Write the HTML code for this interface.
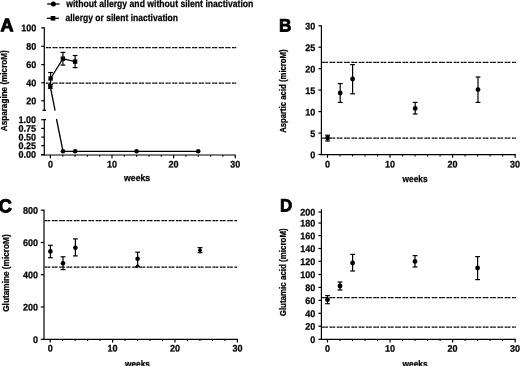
<!DOCTYPE html>
<html><head><meta charset="utf-8"><title>Figure</title>
<style>
html,body{margin:0;padding:0;background:#fff;}
body{width:520px;height:366px;overflow:hidden;}
svg{display:block;}
text{font-family:"Liberation Sans", Arial, sans-serif;font-weight:bold;fill:#000;stroke:#000;stroke-width:0.25px;}
</style></head><body>
<svg width="520" height="366" viewBox="0 0 520 366">
<rect x="0" y="0" width="520" height="366" fill="#fff"/>
<line x1="47.2" y1="4" x2="59.6" y2="4" stroke="#000" stroke-width="1.3" />
<circle cx="53.4" cy="4" r="2.5" fill="#000"/>
<text x="66.2" y="6.9" font-size="10.0" text-anchor="start" textLength="187.2" lengthAdjust="spacingAndGlyphs" transform="rotate(0.03 66.2 6.9)" >without allergy and without silent inactivation</text>
<line x1="46.8" y1="18.3" x2="58.9" y2="18.3" stroke="#000" stroke-width="1.3" />
<rect x="50.7" y="16.0" width="4.6" height="4.6" fill="#000"/>
<text x="65.5" y="21.4" font-size="9.8" text-anchor="start" textLength="112.5" lengthAdjust="spacingAndGlyphs" transform="rotate(0.03 65.5 21.4)" >allergy or silent inactivation</text>
<text x="0.4" y="31.2" font-size="18" text-anchor="start" transform="rotate(0.03 0.4 31.2)" style="stroke-width:1px">A</text>
<line x1="44.3" y1="27.299999999999997" x2="44.3" y2="110.4" stroke="#000" stroke-width="1.2" />
<line x1="41.2" y1="27.9" x2="44.3" y2="27.9" stroke="#000" stroke-width="1.2" />
<text x="36.2" y="31.3" font-size="9.6" text-anchor="end" textLength="15.05" lengthAdjust="spacingAndGlyphs" transform="rotate(0.03 36.2 31.3)" >100</text>
<line x1="41.2" y1="46.3" x2="44.3" y2="46.3" stroke="#000" stroke-width="1.2" />
<text x="36.2" y="49.7" font-size="9.6" text-anchor="end" textLength="10.04" lengthAdjust="spacingAndGlyphs" transform="rotate(0.03 36.2 49.7)" >80</text>
<line x1="41.2" y1="64.6" x2="44.3" y2="64.6" stroke="#000" stroke-width="1.2" />
<text x="36.2" y="68.0" font-size="9.6" text-anchor="end" textLength="10.04" lengthAdjust="spacingAndGlyphs" transform="rotate(0.03 36.2 68.0)" >60</text>
<line x1="41.2" y1="82.8" x2="44.3" y2="82.8" stroke="#000" stroke-width="1.2" />
<text x="36.2" y="86.2" font-size="9.6" text-anchor="end" textLength="10.04" lengthAdjust="spacingAndGlyphs" transform="rotate(0.03 36.2 86.2)" >40</text>
<line x1="41.2" y1="100.8" x2="44.3" y2="100.8" stroke="#000" stroke-width="1.2" />
<text x="36.2" y="104.2" font-size="9.6" text-anchor="end" textLength="10.04" lengthAdjust="spacingAndGlyphs" transform="rotate(0.03 36.2 104.2)" >20</text>
<line x1="42.4" y1="110.3" x2="46.0" y2="110.3" stroke="#000" stroke-width="1.2" />
<line x1="44.3" y1="119.10000000000001" x2="44.3" y2="155.4" stroke="#000" stroke-width="1.2" />
<line x1="44.3" y1="119.7" x2="46.0" y2="119.7" stroke="#000" stroke-width="1.2" />
<line x1="41.2" y1="119.7" x2="44.3" y2="119.7" stroke="#000" stroke-width="1.2" />
<text x="36.0" y="123.1" font-size="9.6" text-anchor="end" textLength="17.56" lengthAdjust="spacingAndGlyphs" transform="rotate(0.03 36.0 123.1)" >1.00</text>
<line x1="41.2" y1="128.4" x2="44.3" y2="128.4" stroke="#000" stroke-width="1.2" />
<text x="36.0" y="131.8" font-size="9.6" text-anchor="end" textLength="17.56" lengthAdjust="spacingAndGlyphs" transform="rotate(0.03 36.0 131.8)" >0.75</text>
<line x1="41.2" y1="137.1" x2="44.3" y2="137.1" stroke="#000" stroke-width="1.2" />
<text x="36.0" y="140.5" font-size="9.6" text-anchor="end" textLength="17.56" lengthAdjust="spacingAndGlyphs" transform="rotate(0.03 36.0 140.5)" >0.50</text>
<line x1="41.2" y1="145.7" x2="44.3" y2="145.7" stroke="#000" stroke-width="1.2" />
<text x="36.0" y="149.1" font-size="9.6" text-anchor="end" textLength="17.56" lengthAdjust="spacingAndGlyphs" transform="rotate(0.03 36.0 149.1)" >0.25</text>
<line x1="41.2" y1="154.6" x2="44.3" y2="154.6" stroke="#000" stroke-width="1.2" />
<text x="36.0" y="157.8" font-size="9.6" text-anchor="end" textLength="17.56" lengthAdjust="spacingAndGlyphs" transform="rotate(0.03 36.0 157.8)" >0.00</text>
<text x="6.9" y="131.2" font-size="9.4" text-anchor="start" textLength="81" lengthAdjust="spacingAndGlyphs" transform="rotate(-90 6.9 131.2)" >Asparagine (microM)</text>
<line x1="40.95" y1="155.0" x2="235.85000000000002" y2="155.0" stroke="#000" stroke-width="1.2" />
<line x1="50.4" y1="155.0" x2="50.4" y2="158.2" stroke="#000" stroke-width="1.2" />
<line x1="62.72" y1="155.0" x2="62.72" y2="156.8" stroke="#000" stroke-width="1.1" />
<line x1="75.03999999999999" y1="155.0" x2="75.03999999999999" y2="156.8" stroke="#000" stroke-width="1.1" />
<line x1="87.36" y1="155.0" x2="87.36" y2="156.8" stroke="#000" stroke-width="1.1" />
<line x1="99.68" y1="155.0" x2="99.68" y2="156.8" stroke="#000" stroke-width="1.1" />
<line x1="112.0" y1="155.0" x2="112.0" y2="158.2" stroke="#000" stroke-width="1.2" />
<line x1="124.32" y1="155.0" x2="124.32" y2="156.8" stroke="#000" stroke-width="1.1" />
<line x1="136.64000000000001" y1="155.0" x2="136.64000000000001" y2="156.8" stroke="#000" stroke-width="1.1" />
<line x1="148.96" y1="155.0" x2="148.96" y2="156.8" stroke="#000" stroke-width="1.1" />
<line x1="161.28" y1="155.0" x2="161.28" y2="156.8" stroke="#000" stroke-width="1.1" />
<line x1="173.6" y1="155.0" x2="173.6" y2="158.2" stroke="#000" stroke-width="1.2" />
<line x1="185.92000000000002" y1="155.0" x2="185.92000000000002" y2="156.8" stroke="#000" stroke-width="1.1" />
<line x1="198.24" y1="155.0" x2="198.24" y2="156.8" stroke="#000" stroke-width="1.1" />
<line x1="210.56" y1="155.0" x2="210.56" y2="156.8" stroke="#000" stroke-width="1.1" />
<line x1="222.88000000000002" y1="155.0" x2="222.88000000000002" y2="156.8" stroke="#000" stroke-width="1.1" />
<line x1="235.20000000000002" y1="155.0" x2="235.20000000000002" y2="158.2" stroke="#000" stroke-width="1.2" />
<text x="50.4" y="167.5" font-size="9.6" text-anchor="middle" textLength="5.02" lengthAdjust="spacingAndGlyphs" transform="rotate(0.03 50.4 167.5)" >0</text>
<text x="112.0" y="167.5" font-size="9.6" text-anchor="middle" textLength="10.04" lengthAdjust="spacingAndGlyphs" transform="rotate(0.03 112.0 167.5)" >10</text>
<text x="173.6" y="167.5" font-size="9.6" text-anchor="middle" textLength="10.04" lengthAdjust="spacingAndGlyphs" transform="rotate(0.03 173.6 167.5)" >20</text>
<text x="235.2" y="167.5" font-size="9.6" text-anchor="middle" textLength="10.04" lengthAdjust="spacingAndGlyphs" transform="rotate(0.03 235.2 167.5)" >30</text>
<text x="124" y="181.2" font-size="9.4" text-anchor="start" textLength="26.2" lengthAdjust="spacingAndGlyphs" transform="rotate(0.03 124 181.2)" >weeks</text>
<line x1="45.8" y1="47.5" x2="236.2" y2="47.5" stroke="#000" stroke-width="1.25" stroke-dasharray="2.4 0.35 2.4 1.5"/>
<line x1="45.8" y1="83.0" x2="236.2" y2="83.0" stroke="#000" stroke-width="1.25" stroke-dasharray="2.4 0.35 2.4 1.5"/>
<polyline points="50.6,78.5 62.9,58.7 75.1,61.6" fill="none" stroke="#000" stroke-width="1.3"/>
<line x1="50.6" y1="72.5" x2="50.6" y2="84.4" stroke="#000" stroke-width="1.2" />
<line x1="48.2" y1="72.5" x2="53.0" y2="72.5" stroke="#000" stroke-width="1.2" />
<line x1="48.2" y1="84.4" x2="53.0" y2="84.4" stroke="#000" stroke-width="1.2" />
<line x1="62.9" y1="52.4" x2="62.9" y2="65.1" stroke="#000" stroke-width="1.2" />
<line x1="60.5" y1="52.4" x2="65.3" y2="52.4" stroke="#000" stroke-width="1.2" />
<line x1="60.5" y1="65.1" x2="65.3" y2="65.1" stroke="#000" stroke-width="1.2" />
<line x1="75.1" y1="55.5" x2="75.1" y2="67.6" stroke="#000" stroke-width="1.2" />
<line x1="72.69999999999999" y1="55.5" x2="77.5" y2="55.5" stroke="#000" stroke-width="1.2" />
<line x1="72.69999999999999" y1="67.6" x2="77.5" y2="67.6" stroke="#000" stroke-width="1.2" />
<rect x="48.4" y="76.3" width="4.4" height="4.4" fill="#000"/>
<rect x="60.699999999999996" y="56.5" width="4.4" height="4.4" fill="#000"/>
<rect x="72.89999999999999" y="59.4" width="4.4" height="4.4" fill="#000"/>
<line x1="50.3" y1="84.8" x2="50.3" y2="88.3" stroke="#000" stroke-width="1.2" />
<line x1="47.9" y1="84.8" x2="52.699999999999996" y2="84.8" stroke="#000" stroke-width="1.2" />
<line x1="47.9" y1="88.3" x2="52.699999999999996" y2="88.3" stroke="#000" stroke-width="1.2" />
<circle cx="50.3" cy="86.5" r="2.3" fill="#000"/>
<line x1="50.3" y1="86.5" x2="55.1" y2="110.6" stroke="#000" stroke-width="1.3" />
<line x1="56.5" y1="119.0" x2="63" y2="151.2" stroke="#000" stroke-width="1.3" />
<polyline points="63,151.3 75.2,151.3 136.6,151.3 198.2,151.3" fill="none" stroke="#000" stroke-width="1.3"/>
<circle cx="63" cy="151.3" r="2.3" fill="#000"/>
<circle cx="75.2" cy="151.3" r="2.3" fill="#000"/>
<circle cx="136.6" cy="151.3" r="2.3" fill="#000"/>
<circle cx="198.2" cy="151.3" r="2.3" fill="#000"/>
<text x="279.0" y="31.5" font-size="18" text-anchor="start" textLength="12.4" lengthAdjust="spacingAndGlyphs" transform="rotate(0.03 279.0 31.5)" style="stroke-width:0.8px">B</text>
<line x1="321.4" y1="25.2" x2="321.4" y2="155.2" stroke="#000" stroke-width="1.2" />
<line x1="318.4" y1="25.8" x2="321.4" y2="25.8" stroke="#000" stroke-width="1.2" />
<text x="315.2" y="29.6" font-size="9.6" text-anchor="end" textLength="10.04" lengthAdjust="spacingAndGlyphs" transform="rotate(0.03 315.2 29.6)" >30</text>
<line x1="318.4" y1="47.2" x2="321.4" y2="47.2" stroke="#000" stroke-width="1.2" />
<text x="315.2" y="51.0" font-size="9.6" text-anchor="end" textLength="10.04" lengthAdjust="spacingAndGlyphs" transform="rotate(0.03 315.2 51.0)" >25</text>
<line x1="318.4" y1="68.7" x2="321.4" y2="68.7" stroke="#000" stroke-width="1.2" />
<text x="315.2" y="72.5" font-size="9.6" text-anchor="end" textLength="10.04" lengthAdjust="spacingAndGlyphs" transform="rotate(0.03 315.2 72.5)" >20</text>
<line x1="318.4" y1="90.1" x2="321.4" y2="90.1" stroke="#000" stroke-width="1.2" />
<text x="315.2" y="93.9" font-size="9.6" text-anchor="end" textLength="10.04" lengthAdjust="spacingAndGlyphs" transform="rotate(0.03 315.2 93.9)" >15</text>
<line x1="318.4" y1="111.6" x2="321.4" y2="111.6" stroke="#000" stroke-width="1.2" />
<text x="315.2" y="115.4" font-size="9.6" text-anchor="end" textLength="10.04" lengthAdjust="spacingAndGlyphs" transform="rotate(0.03 315.2 115.4)" >10</text>
<line x1="318.4" y1="133.1" x2="321.4" y2="133.1" stroke="#000" stroke-width="1.2" />
<text x="315.2" y="136.9" font-size="9.6" text-anchor="end" textLength="5.02" lengthAdjust="spacingAndGlyphs" transform="rotate(0.03 315.2 136.9)" >5</text>
<line x1="318.4" y1="154.5" x2="321.4" y2="154.5" stroke="#000" stroke-width="1.2" />
<text x="315.2" y="158.3" font-size="9.6" text-anchor="end" textLength="5.02" lengthAdjust="spacingAndGlyphs" transform="rotate(0.03 315.2 158.3)" >0</text>
<text x="286.1" y="132.8" font-size="9.2" text-anchor="start" textLength="83.4" lengthAdjust="spacingAndGlyphs" transform="rotate(-90 286.1 132.8)" >Aspartic acid (microM)</text>
<line x1="320.75" y1="154.6" x2="515.8" y2="154.6" stroke="#000" stroke-width="1.2" />
<line x1="327.5" y1="154.6" x2="327.5" y2="157.79999999999998" stroke="#000" stroke-width="1.2" />
<line x1="340.01" y1="154.6" x2="340.01" y2="156.4" stroke="#000" stroke-width="1.1" />
<line x1="352.52" y1="154.6" x2="352.52" y2="156.4" stroke="#000" stroke-width="1.1" />
<line x1="365.03" y1="154.6" x2="365.03" y2="156.4" stroke="#000" stroke-width="1.1" />
<line x1="377.54" y1="154.6" x2="377.54" y2="156.4" stroke="#000" stroke-width="1.1" />
<line x1="390.05" y1="154.6" x2="390.05" y2="157.79999999999998" stroke="#000" stroke-width="1.2" />
<line x1="402.56" y1="154.6" x2="402.56" y2="156.4" stroke="#000" stroke-width="1.1" />
<line x1="415.07" y1="154.6" x2="415.07" y2="156.4" stroke="#000" stroke-width="1.1" />
<line x1="427.58" y1="154.6" x2="427.58" y2="156.4" stroke="#000" stroke-width="1.1" />
<line x1="440.09000000000003" y1="154.6" x2="440.09000000000003" y2="156.4" stroke="#000" stroke-width="1.1" />
<line x1="452.6" y1="154.6" x2="452.6" y2="157.79999999999998" stroke="#000" stroke-width="1.2" />
<line x1="465.11" y1="154.6" x2="465.11" y2="156.4" stroke="#000" stroke-width="1.1" />
<line x1="477.62" y1="154.6" x2="477.62" y2="156.4" stroke="#000" stroke-width="1.1" />
<line x1="490.13" y1="154.6" x2="490.13" y2="156.4" stroke="#000" stroke-width="1.1" />
<line x1="502.64" y1="154.6" x2="502.64" y2="156.4" stroke="#000" stroke-width="1.1" />
<line x1="515.15" y1="154.6" x2="515.15" y2="157.79999999999998" stroke="#000" stroke-width="1.2" />
<text x="327.5" y="167.4" font-size="9.6" text-anchor="middle" textLength="5.02" lengthAdjust="spacingAndGlyphs" transform="rotate(0.03 327.5 167.4)" >0</text>
<text x="390.1" y="167.4" font-size="9.6" text-anchor="middle" textLength="10.04" lengthAdjust="spacingAndGlyphs" transform="rotate(0.03 390.1 167.4)" >10</text>
<text x="452.6" y="167.4" font-size="9.6" text-anchor="middle" textLength="10.04" lengthAdjust="spacingAndGlyphs" transform="rotate(0.03 452.6 167.4)" >20</text>
<text x="515.1" y="167.4" font-size="9.6" text-anchor="middle" textLength="10.04" lengthAdjust="spacingAndGlyphs" transform="rotate(0.03 515.1 167.4)" >30</text>
<text x="402.6" y="181.7" font-size="9.4" text-anchor="start" textLength="24.9" lengthAdjust="spacingAndGlyphs" transform="rotate(0.03 402.6 181.7)" >weeks</text>
<line x1="322.2" y1="62.3" x2="516.0" y2="62.3" stroke="#000" stroke-width="1.25" stroke-dasharray="2.65 0.4 2.65 1.6"/>
<line x1="322.2" y1="138.1" x2="516.0" y2="138.1" stroke="#000" stroke-width="1.25" stroke-dasharray="2.65 0.4 2.65 1.6"/>
<line x1="327.6" y1="135.2" x2="327.6" y2="141" stroke="#000" stroke-width="1.2" />
<line x1="325.20000000000005" y1="135.2" x2="330.0" y2="135.2" stroke="#000" stroke-width="1.2" />
<line x1="325.20000000000005" y1="141" x2="330.0" y2="141" stroke="#000" stroke-width="1.2" />
<circle cx="327.6" cy="138" r="2.4" fill="#000"/>
<line x1="340.2" y1="83.6" x2="340.2" y2="102.4" stroke="#000" stroke-width="1.2" />
<line x1="337.8" y1="83.6" x2="342.59999999999997" y2="83.6" stroke="#000" stroke-width="1.2" />
<line x1="337.8" y1="102.4" x2="342.59999999999997" y2="102.4" stroke="#000" stroke-width="1.2" />
<circle cx="340.2" cy="93" r="2.4" fill="#000"/>
<line x1="352.6" y1="64.6" x2="352.6" y2="93.8" stroke="#000" stroke-width="1.2" />
<line x1="350.20000000000005" y1="64.6" x2="355.0" y2="64.6" stroke="#000" stroke-width="1.2" />
<line x1="350.20000000000005" y1="93.8" x2="355.0" y2="93.8" stroke="#000" stroke-width="1.2" />
<circle cx="352.6" cy="79" r="2.4" fill="#000"/>
<line x1="415.2" y1="102.4" x2="415.2" y2="114" stroke="#000" stroke-width="1.2" />
<line x1="412.8" y1="102.4" x2="417.59999999999997" y2="102.4" stroke="#000" stroke-width="1.2" />
<line x1="412.8" y1="114" x2="417.59999999999997" y2="114" stroke="#000" stroke-width="1.2" />
<circle cx="415.2" cy="108.4" r="2.4" fill="#000"/>
<line x1="478" y1="77" x2="478" y2="102.4" stroke="#000" stroke-width="1.2" />
<line x1="475.6" y1="77" x2="480.4" y2="77" stroke="#000" stroke-width="1.2" />
<line x1="475.6" y1="102.4" x2="480.4" y2="102.4" stroke="#000" stroke-width="1.2" />
<circle cx="478" cy="89.6" r="2.4" fill="#000"/>
<text x="-1.4" y="212.2" font-size="18.6" text-anchor="start" transform="rotate(0.03 -1.4 212.2)" style="stroke-width:0.9px">C</text>
<line x1="44" y1="209.6" x2="44" y2="339.90000000000003" stroke="#000" stroke-width="1.2" />
<line x1="40.8" y1="210.2" x2="44" y2="210.2" stroke="#000" stroke-width="1.2" />
<text x="38.0" y="213.8" font-size="9.6" text-anchor="end" textLength="15.05" lengthAdjust="spacingAndGlyphs" transform="rotate(0.03 38.0 213.8)" >800</text>
<line x1="40.8" y1="242.5" x2="44" y2="242.5" stroke="#000" stroke-width="1.2" />
<text x="38.0" y="246.1" font-size="9.6" text-anchor="end" textLength="15.05" lengthAdjust="spacingAndGlyphs" transform="rotate(0.03 38.0 246.1)" >600</text>
<line x1="40.8" y1="274.7" x2="44" y2="274.7" stroke="#000" stroke-width="1.2" />
<text x="38.0" y="278.3" font-size="9.6" text-anchor="end" textLength="15.05" lengthAdjust="spacingAndGlyphs" transform="rotate(0.03 38.0 278.3)" >400</text>
<line x1="40.8" y1="307.0" x2="44" y2="307.0" stroke="#000" stroke-width="1.2" />
<text x="38.0" y="310.6" font-size="9.6" text-anchor="end" textLength="15.05" lengthAdjust="spacingAndGlyphs" transform="rotate(0.03 38.0 310.6)" >200</text>
<line x1="40.8" y1="339.3" x2="44" y2="339.3" stroke="#000" stroke-width="1.2" />
<text x="38.0" y="342.9" font-size="9.6" text-anchor="end" textLength="5.02" lengthAdjust="spacingAndGlyphs" transform="rotate(0.03 38.0 342.9)" >0</text>
<text x="8.8" y="311.8" font-size="9.4" text-anchor="start" textLength="77.5" lengthAdjust="spacingAndGlyphs" transform="rotate(-90 8.8 311.8)" >Glutamine (microM)</text>
<line x1="43.35" y1="339.3" x2="238.05000000000004" y2="339.3" stroke="#000" stroke-width="1.2" />
<line x1="50.2" y1="339.3" x2="50.2" y2="342.5" stroke="#000" stroke-width="1.2" />
<line x1="62.68000000000001" y1="339.3" x2="62.68000000000001" y2="341.1" stroke="#000" stroke-width="1.1" />
<line x1="75.16" y1="339.3" x2="75.16" y2="341.1" stroke="#000" stroke-width="1.1" />
<line x1="87.64" y1="339.3" x2="87.64" y2="341.1" stroke="#000" stroke-width="1.1" />
<line x1="100.12" y1="339.3" x2="100.12" y2="341.1" stroke="#000" stroke-width="1.1" />
<line x1="112.60000000000001" y1="339.3" x2="112.60000000000001" y2="342.5" stroke="#000" stroke-width="1.2" />
<line x1="125.08" y1="339.3" x2="125.08" y2="341.1" stroke="#000" stroke-width="1.1" />
<line x1="137.56" y1="339.3" x2="137.56" y2="341.1" stroke="#000" stroke-width="1.1" />
<line x1="150.04000000000002" y1="339.3" x2="150.04000000000002" y2="341.1" stroke="#000" stroke-width="1.1" />
<line x1="162.52" y1="339.3" x2="162.52" y2="341.1" stroke="#000" stroke-width="1.1" />
<line x1="175.0" y1="339.3" x2="175.0" y2="342.5" stroke="#000" stroke-width="1.2" />
<line x1="187.48000000000002" y1="339.3" x2="187.48000000000002" y2="341.1" stroke="#000" stroke-width="1.1" />
<line x1="199.95999999999998" y1="339.3" x2="199.95999999999998" y2="341.1" stroke="#000" stroke-width="1.1" />
<line x1="212.44" y1="339.3" x2="212.44" y2="341.1" stroke="#000" stroke-width="1.1" />
<line x1="224.92000000000002" y1="339.3" x2="224.92000000000002" y2="341.1" stroke="#000" stroke-width="1.1" />
<line x1="237.40000000000003" y1="339.3" x2="237.40000000000003" y2="342.5" stroke="#000" stroke-width="1.2" />
<text x="50.2" y="351.6" font-size="9.6" text-anchor="middle" textLength="5.02" lengthAdjust="spacingAndGlyphs" transform="rotate(0.03 50.2 351.6)" >0</text>
<text x="112.6" y="351.6" font-size="9.6" text-anchor="middle" textLength="10.04" lengthAdjust="spacingAndGlyphs" transform="rotate(0.03 112.6 351.6)" >10</text>
<text x="175.0" y="351.6" font-size="9.6" text-anchor="middle" textLength="10.04" lengthAdjust="spacingAndGlyphs" transform="rotate(0.03 175.0 351.6)" >20</text>
<text x="237.4" y="351.6" font-size="9.6" text-anchor="middle" textLength="10.04" lengthAdjust="spacingAndGlyphs" transform="rotate(0.03 237.4 351.6)" >30</text>
<text x="125" y="366.7" font-size="9.4" text-anchor="start" textLength="25.0" lengthAdjust="spacingAndGlyphs" transform="rotate(0.03 125 366.7)" >weeks</text>
<line x1="44.6" y1="220.7" x2="237.6" y2="220.7" stroke="#000" stroke-width="1.25" stroke-dasharray="2.65 0.4 2.65 1.6"/>
<line x1="44.6" y1="267.0" x2="237.6" y2="267.0" stroke="#000" stroke-width="1.25" stroke-dasharray="2.65 0.4 2.65 1.6"/>
<line x1="50.4" y1="245.3" x2="50.4" y2="257.7" stroke="#000" stroke-width="1.2" />
<line x1="48.0" y1="245.3" x2="52.8" y2="245.3" stroke="#000" stroke-width="1.2" />
<line x1="48.0" y1="257.7" x2="52.8" y2="257.7" stroke="#000" stroke-width="1.2" />
<circle cx="50.4" cy="251.4" r="2.3" fill="#000"/>
<line x1="63" y1="256.8" x2="63" y2="269.6" stroke="#000" stroke-width="1.2" />
<line x1="60.6" y1="256.8" x2="65.4" y2="256.8" stroke="#000" stroke-width="1.2" />
<line x1="60.6" y1="269.6" x2="65.4" y2="269.6" stroke="#000" stroke-width="1.2" />
<circle cx="63" cy="263.2" r="2.3" fill="#000"/>
<line x1="75.4" y1="238.9" x2="75.4" y2="255.9" stroke="#000" stroke-width="1.2" />
<line x1="73.0" y1="238.9" x2="77.80000000000001" y2="238.9" stroke="#000" stroke-width="1.2" />
<line x1="73.0" y1="255.9" x2="77.80000000000001" y2="255.9" stroke="#000" stroke-width="1.2" />
<circle cx="75.4" cy="247.7" r="2.3" fill="#000"/>
<line x1="137.6" y1="252.2" x2="137.6" y2="266.8" stroke="#000" stroke-width="1.2" />
<line x1="135.2" y1="252.2" x2="140.0" y2="252.2" stroke="#000" stroke-width="1.2" />
<line x1="135.2" y1="266.8" x2="140.0" y2="266.8" stroke="#000" stroke-width="1.2" />
<circle cx="137.6" cy="258.8" r="2.3" fill="#000"/>
<line x1="200" y1="247.6" x2="200" y2="252.7" stroke="#000" stroke-width="1.2" />
<line x1="197.6" y1="247.6" x2="202.4" y2="247.6" stroke="#000" stroke-width="1.2" />
<line x1="197.6" y1="252.7" x2="202.4" y2="252.7" stroke="#000" stroke-width="1.2" />
<circle cx="200" cy="250.2" r="1.9" fill="#000"/>
<line x1="137.6" y1="264.6" x2="135.6" y2="266.8" stroke="#000" stroke-width="1.1" />
<line x1="137.6" y1="264.6" x2="139.6" y2="266.8" stroke="#000" stroke-width="1.1" />
<text x="279.9" y="211.5" font-size="18" text-anchor="start" textLength="12.2" lengthAdjust="spacingAndGlyphs" transform="rotate(0.03 279.9 211.5)" style="stroke-width:0.8px">D</text>
<line x1="321.4" y1="209.2" x2="321.4" y2="339.90000000000003" stroke="#000" stroke-width="1.2" />
<line x1="318.4" y1="212" x2="321.4" y2="212" stroke="#000" stroke-width="1.2" />
<text x="315.2" y="215.6" font-size="9.6" text-anchor="end" textLength="15.05" lengthAdjust="spacingAndGlyphs" transform="rotate(0.03 315.2 215.6)" >200</text>
<line x1="318.4" y1="223" x2="321.4" y2="223" stroke="#000" stroke-width="1.2" />
<text x="315.2" y="226.6" font-size="9.6" text-anchor="end" textLength="15.05" lengthAdjust="spacingAndGlyphs" transform="rotate(0.03 315.2 226.6)" >180</text>
<line x1="318.4" y1="235.6" x2="321.4" y2="235.6" stroke="#000" stroke-width="1.2" />
<text x="315.2" y="239.2" font-size="9.6" text-anchor="end" textLength="15.05" lengthAdjust="spacingAndGlyphs" transform="rotate(0.03 315.2 239.2)" >160</text>
<line x1="318.4" y1="248.5" x2="321.4" y2="248.5" stroke="#000" stroke-width="1.2" />
<text x="315.2" y="252.1" font-size="9.6" text-anchor="end" textLength="15.05" lengthAdjust="spacingAndGlyphs" transform="rotate(0.03 315.2 252.1)" >140</text>
<line x1="318.4" y1="261.3" x2="321.4" y2="261.3" stroke="#000" stroke-width="1.2" />
<text x="315.2" y="264.9" font-size="9.6" text-anchor="end" textLength="15.05" lengthAdjust="spacingAndGlyphs" transform="rotate(0.03 315.2 264.9)" >120</text>
<line x1="318.4" y1="274.5" x2="321.4" y2="274.5" stroke="#000" stroke-width="1.2" />
<text x="315.2" y="278.1" font-size="9.6" text-anchor="end" textLength="15.05" lengthAdjust="spacingAndGlyphs" transform="rotate(0.03 315.2 278.1)" >100</text>
<line x1="318.4" y1="287.4" x2="321.4" y2="287.4" stroke="#000" stroke-width="1.2" />
<text x="315.2" y="291.0" font-size="9.6" text-anchor="end" textLength="10.04" lengthAdjust="spacingAndGlyphs" transform="rotate(0.03 315.2 291.0)" >80</text>
<line x1="318.4" y1="300.4" x2="321.4" y2="300.4" stroke="#000" stroke-width="1.2" />
<text x="315.2" y="304.0" font-size="9.6" text-anchor="end" textLength="10.04" lengthAdjust="spacingAndGlyphs" transform="rotate(0.03 315.2 304.0)" >60</text>
<line x1="318.4" y1="313.3" x2="321.4" y2="313.3" stroke="#000" stroke-width="1.2" />
<text x="315.2" y="316.9" font-size="9.6" text-anchor="end" textLength="10.04" lengthAdjust="spacingAndGlyphs" transform="rotate(0.03 315.2 316.9)" >40</text>
<line x1="318.4" y1="326.2" x2="321.4" y2="326.2" stroke="#000" stroke-width="1.2" />
<text x="315.2" y="329.8" font-size="9.6" text-anchor="end" textLength="10.04" lengthAdjust="spacingAndGlyphs" transform="rotate(0.03 315.2 329.8)" >20</text>
<line x1="318.4" y1="339.3" x2="321.4" y2="339.3" stroke="#000" stroke-width="1.2" />
<text x="315.2" y="342.9" font-size="9.6" text-anchor="end" textLength="5.02" lengthAdjust="spacingAndGlyphs" transform="rotate(0.03 315.2 342.9)" >0</text>
<text x="286.1" y="316.3" font-size="9.2" text-anchor="start" textLength="88" lengthAdjust="spacingAndGlyphs" transform="rotate(-90 286.1 316.3)" >Glutamic acid (microM)</text>
<line x1="320.75" y1="339.3" x2="515.8" y2="339.3" stroke="#000" stroke-width="1.2" />
<line x1="327.5" y1="339.3" x2="327.5" y2="342.5" stroke="#000" stroke-width="1.2" />
<line x1="340.01" y1="339.3" x2="340.01" y2="341.1" stroke="#000" stroke-width="1.1" />
<line x1="352.52" y1="339.3" x2="352.52" y2="341.1" stroke="#000" stroke-width="1.1" />
<line x1="365.03" y1="339.3" x2="365.03" y2="341.1" stroke="#000" stroke-width="1.1" />
<line x1="377.54" y1="339.3" x2="377.54" y2="341.1" stroke="#000" stroke-width="1.1" />
<line x1="390.05" y1="339.3" x2="390.05" y2="342.5" stroke="#000" stroke-width="1.2" />
<line x1="402.56" y1="339.3" x2="402.56" y2="341.1" stroke="#000" stroke-width="1.1" />
<line x1="415.07" y1="339.3" x2="415.07" y2="341.1" stroke="#000" stroke-width="1.1" />
<line x1="427.58" y1="339.3" x2="427.58" y2="341.1" stroke="#000" stroke-width="1.1" />
<line x1="440.09000000000003" y1="339.3" x2="440.09000000000003" y2="341.1" stroke="#000" stroke-width="1.1" />
<line x1="452.6" y1="339.3" x2="452.6" y2="342.5" stroke="#000" stroke-width="1.2" />
<line x1="465.11" y1="339.3" x2="465.11" y2="341.1" stroke="#000" stroke-width="1.1" />
<line x1="477.62" y1="339.3" x2="477.62" y2="341.1" stroke="#000" stroke-width="1.1" />
<line x1="490.13" y1="339.3" x2="490.13" y2="341.1" stroke="#000" stroke-width="1.1" />
<line x1="502.64" y1="339.3" x2="502.64" y2="341.1" stroke="#000" stroke-width="1.1" />
<line x1="515.15" y1="339.3" x2="515.15" y2="342.5" stroke="#000" stroke-width="1.2" />
<text x="327.5" y="351.7" font-size="9.6" text-anchor="middle" textLength="5.02" lengthAdjust="spacingAndGlyphs" transform="rotate(0.03 327.5 351.7)" >0</text>
<text x="390.1" y="351.7" font-size="9.6" text-anchor="middle" textLength="10.04" lengthAdjust="spacingAndGlyphs" transform="rotate(0.03 390.1 351.7)" >10</text>
<text x="452.6" y="351.7" font-size="9.6" text-anchor="middle" textLength="10.04" lengthAdjust="spacingAndGlyphs" transform="rotate(0.03 452.6 351.7)" >20</text>
<text x="515.1" y="351.7" font-size="9.6" text-anchor="middle" textLength="10.04" lengthAdjust="spacingAndGlyphs" transform="rotate(0.03 515.1 351.7)" >30</text>
<text x="402.6" y="366.7" font-size="9.4" text-anchor="start" textLength="24.9" lengthAdjust="spacingAndGlyphs" transform="rotate(0.03 402.6 366.7)" >weeks</text>
<line x1="322.2" y1="297.6" x2="516.0" y2="297.6" stroke="#000" stroke-width="1.25" stroke-dasharray="2.65 0.4 2.65 1.6"/>
<line x1="322.2" y1="327.0" x2="516.0" y2="327.0" stroke="#000" stroke-width="1.25" stroke-dasharray="2.65 0.4 2.65 1.6"/>
<line x1="327.5" y1="295.6" x2="327.5" y2="303.7" stroke="#000" stroke-width="1.2" />
<line x1="325.1" y1="295.6" x2="329.9" y2="295.6" stroke="#000" stroke-width="1.2" />
<line x1="325.1" y1="303.7" x2="329.9" y2="303.7" stroke="#000" stroke-width="1.2" />
<circle cx="327.5" cy="299.7" r="2.4" fill="#000"/>
<line x1="340" y1="282" x2="340" y2="290" stroke="#000" stroke-width="1.2" />
<line x1="337.6" y1="282" x2="342.4" y2="282" stroke="#000" stroke-width="1.2" />
<line x1="337.6" y1="290" x2="342.4" y2="290" stroke="#000" stroke-width="1.2" />
<circle cx="340" cy="286" r="2.4" fill="#000"/>
<line x1="352.6" y1="254.4" x2="352.6" y2="271" stroke="#000" stroke-width="1.2" />
<line x1="350.20000000000005" y1="254.4" x2="355.0" y2="254.4" stroke="#000" stroke-width="1.2" />
<line x1="350.20000000000005" y1="271" x2="355.0" y2="271" stroke="#000" stroke-width="1.2" />
<circle cx="352.6" cy="263" r="2.4" fill="#000"/>
<line x1="415" y1="255.6" x2="415" y2="267" stroke="#000" stroke-width="1.2" />
<line x1="412.6" y1="255.6" x2="417.4" y2="255.6" stroke="#000" stroke-width="1.2" />
<line x1="412.6" y1="267" x2="417.4" y2="267" stroke="#000" stroke-width="1.2" />
<circle cx="415" cy="261.4" r="2.4" fill="#000"/>
<line x1="477.6" y1="256.6" x2="477.6" y2="279.6" stroke="#000" stroke-width="1.2" />
<line x1="475.20000000000005" y1="256.6" x2="480.0" y2="256.6" stroke="#000" stroke-width="1.2" />
<line x1="475.20000000000005" y1="279.6" x2="480.0" y2="279.6" stroke="#000" stroke-width="1.2" />
<circle cx="477.6" cy="268" r="2.4" fill="#000"/>
</svg>
</body></html>
